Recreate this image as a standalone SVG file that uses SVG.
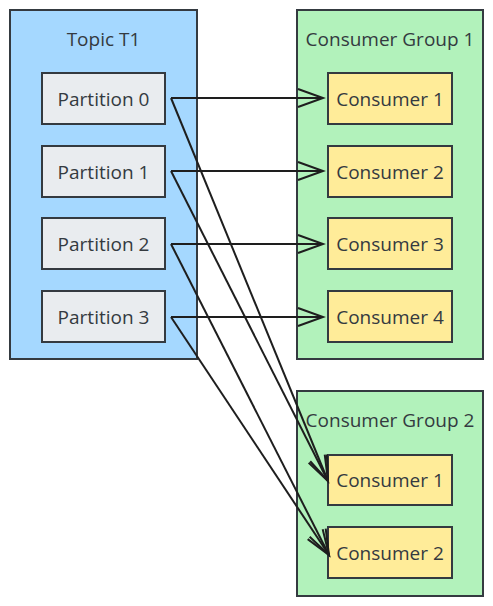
<svg xmlns="http://www.w3.org/2000/svg" width="493" height="606" viewBox="0 0 493 606">
<style>
text{font-family:"Open Sans","Noto Sans",sans-serif;font-size:19px;fill:#343a40;text-anchor:middle;dominant-baseline:central}
.grp{stroke:#343a40;stroke-width:2}
.topic{fill:#a5d8ff}
.cg{fill:#b2f2bb}
.part{fill:#e9ecef;stroke:#343a40;stroke-width:2}
.cons{fill:#ffec99;stroke:#343a40;stroke-width:2}
.edge{fill:none;stroke:#1e1e1e;stroke-width:2;marker-end:url(#arr)}
</style>
<defs>
<marker id="arr" markerUnits="userSpaceOnUse" markerWidth="30" markerHeight="24" viewBox="-27 -11 30 22" refX="0" refY="0" orient="auto">
<path d="M-25,-9 L0,0 L-25,9" fill="none" stroke="#1e1e1e" stroke-width="2"/>
</marker>
</defs>
<g id="topic-t1">
<rect class="grp topic" x="10" y="10" width="187" height="349"/>
<text x="103.5" y="39">Topic T1</text>
</g>
<g id="consumer-group-1">
<rect class="grp cg" x="297" y="10" width="186" height="349"/>
<text x="390" y="39">Consumer Group 1</text>
</g>
<g id="consumer-group-2">
<rect class="grp cg" x="297" y="391" width="186" height="205"/>
<text x="390" y="420">Consumer Group 2</text>
</g>
<g id="p0"><rect class="part" x="42" y="73" width="123" height="51"/><text x="103.5" y="98.5">Partition 0</text></g>
<g id="p1"><rect class="part" x="42" y="146" width="123" height="51"/><text x="103.5" y="171.5">Partition 1</text></g>
<g id="p2"><rect class="part" x="42" y="218" width="123" height="51"/><text x="103.5" y="243.5">Partition 2</text></g>
<g id="p3"><rect class="part" x="42" y="291" width="123" height="51"/><text x="103.5" y="316.5">Partition 3</text></g>
<g id="g1c1"><rect class="cons" x="328" y="73" width="124" height="51"/><text x="390" y="98.5">Consumer 1</text></g>
<g id="g1c2"><rect class="cons" x="328" y="146" width="124" height="51"/><text x="390" y="171.5">Consumer 2</text></g>
<g id="g1c3"><rect class="cons" x="328" y="218" width="124" height="51"/><text x="390" y="243.5">Consumer 3</text></g>
<g id="g1c4"><rect class="cons" x="328" y="291" width="124" height="51"/><text x="390" y="316.5">Consumer 4</text></g>
<g id="g2c1"><rect class="cons" x="328" y="455" width="124" height="50"/><text x="390" y="480">Consumer 1</text></g>
<g id="g2c2"><rect class="cons" x="328" y="527" width="124" height="51"/><text x="390" y="552.5">Consumer 2</text></g>
<g id="connectors">
<path class="edge" d="M171,98 L323,98"/>
<path class="edge" d="M171,171 L323,171"/>
<path class="edge" d="M171,244 L323,244"/>
<path class="edge" d="M171,317 L323,317"/>
<path class="edge" d="M171,98 L328,481"/>
<path class="edge" d="M171,171 L328,481"/>
<path class="edge" d="M171,244 L329,555"/>
<path class="edge" d="M171,317 L329,555"/>
</g>
</svg>
